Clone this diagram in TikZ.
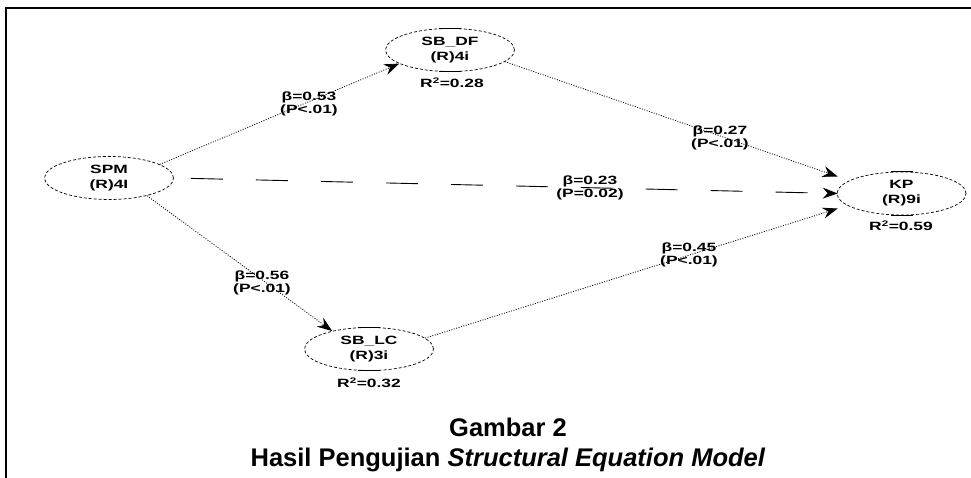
\documentclass[tikz,border=0pt]{standalone}
\usepackage{fontspec}
\setmainfont{Liberation Sans}
\newfontfamily\diagfont[FakeStretch=1.45]{Liberation Sans}
\usetikzlibrary{shapes.geometric,arrows.meta}
\begin{document}
\begin{tikzpicture}[x=1pt,y=-1pt,
  latent/.style={ellipse, draw, line width=0.7pt, dash pattern=on 3pt off 2pt,
    minimum width=129pt, minimum height=43pt, inner sep=0pt, align=center,
    font=\diagfont\bfseries\fontsize{12}{15}\selectfont},
  rsq/.style={font=\diagfont\bfseries\fontsize{12}{14}\selectfont, inner sep=0pt},
  elabel/.style={font=\diagfont\bfseries\fontsize{12}{13}\selectfont, align=center, inner sep=0pt},
  path/.style={line width=0.8pt, dash pattern=on 1pt off 1.5pt,
    -{Stealth[length=15pt,width=11pt,inset=5pt]}},
  direct/.style={line width=0.9pt, dash pattern=on 32pt off 33pt, dash phase=-17pt,
    -{Stealth[length=15pt,width=11pt,inset=5pt]}},
  bar/.style={line width=1pt},
  frame/.style={line width=2pt}
]
\useasboundingbox (0,0) rectangle (971,478);
\coordinate (ftl) at (6,8);
\coordinate (ftr) at (975,8);
\coordinate (fbl) at (6,482);
\draw[frame] (fbl) -- (ftl) -- (ftr);

\node[latent] (spm)  at (109,178)   {SPM\\(R)4I};
\node[latent] (sbdf) at (450,50)    {SB\_DF\\(R)4i};
\node[latent] (kp)   at (901.5,193.5) {KP\\(R)9i};
\node[latent] (sblc) at (369,349)   {SB\_LC\\(R)3i};

\foreach \n in {sbdf,kp,sblc}{
  \draw[bar] ([xshift=-11pt]\n.north) -- ([xshift=11pt]\n.north);
  \draw[bar] ([xshift=-11pt]\n.south) -- ([xshift=11pt]\n.south);
}

\node[rsq] (r1) at (452,83)  {R\textsuperscript{2}=0.28};
\node[rsq] (r2) at (901,226) {R\textsuperscript{2}=0.59};
\node[rsq] (r3) at (369,383) {R\textsuperscript{2}=0.32};

\draw[path] (spm.15) -- (sbdf.195);
\draw[path] (sbdf.-12) -- ([xshift=1pt,yshift=17pt]kp.west);
\draw[direct] (spm.east) -- ([xshift=1pt]kp.west);
\draw[path] (spm.-25) -- (sblc.154);
\draw[path] (sblc.11) -- ([xshift=1pt,yshift=-15pt]kp.west);

\node[elabel] (l1) at (309,104) {β=0.53\\(P<.01)};
\node[elabel] (l2) at (720,138) {β=0.27\\(P<.01)};
\node[elabel] (l3) at (590,188) {β=0.23\\(P=0.02)};
\node[elabel] (l4) at (689,255) {β=0.45\\(P<.01)};
\node[elabel] (l5) at (262,283) {β=0.56\\(P<.01)};

\node[font=\bfseries\fontsize{25.5}{30}\selectfont, align=center] (cap) at (508,445)
  {Gambar 2\\Hasil Pengujian \textit{Structural Equation Model}};
\end{tikzpicture}
\end{document}
